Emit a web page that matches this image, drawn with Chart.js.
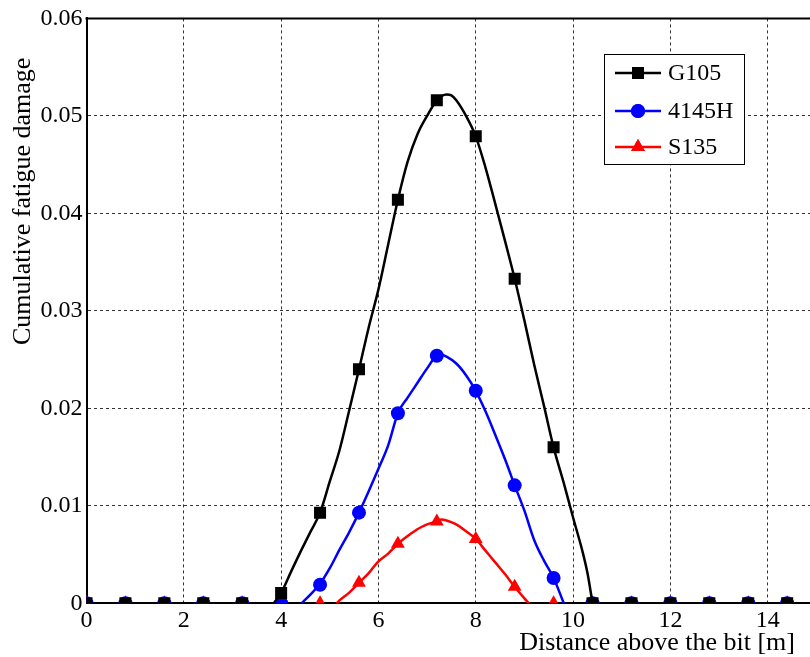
<!DOCTYPE html>
<html><head><meta charset="utf-8">
<script src="https://cdn.jsdelivr.net/npm/chart.js@4.4.0/dist/chart.umd.min.js"></script>
<style>html,body{margin:0;padding:0;background:#fff;overflow:hidden;width:810px;height:657px}
#wrap{position:relative;width:880px;height:657px}</style></head>
<body><div id="wrap"><canvas id="c" width="880" height="657"></canvas></div>
<script>
const seriesNames = ['G105', '4145H', 'S135'];
const seriesColors = ['#000000', '#0000ff', '#ff0000'];
const seriesMarkers = ['rect', 'circle', 'triangle'];
const markerX = [0, 0.8, 1.6, 2.4, 3.2, 4.0, 4.8, 5.6, 6.4, 7.2, 8.0, 8.8, 9.6, 10.4, 11.2, 12.0, 12.8, 13.6, 14.4];
const g105Markers = [0, 0, 0, 0, 0, 0.00105, 0.0093, 0.0240, 0.0414, 0.0516, 0.0479, 0.0333, 0.0160, 0, 0, 0, 0, 0, 0];
const h4145Markers = [0, 0, 0, 0, 0, 0, 0.0019, 0.0093, 0.0195, 0.0254, 0.0218, 0.0121, 0.0026, 0, 0, 0, 0, 0, 0];
const s135Markers = [0, 0, 0, 0, 0, 0, 0, 0.0021, 0.0061, 0.0084, 0.0066, 0.0017, 0, 0, 0, 0, 0, 0, 0];

const g105CurveX = [3.85, 4.0, 4.2, 4.4, 4.6, 4.8, 5.0, 5.2, 5.4, 5.6, 5.8, 6.0, 6.2, 6.4, 6.6, 6.8, 7.0, 7.2, 7.4, 7.5, 7.6, 7.8, 8.0, 8.2, 8.4, 8.6, 8.8, 9.0, 9.2, 9.4, 9.6, 9.8, 10.0, 10.2, 10.3, 10.4];
const g105CurveY = [0, 0.00105, 0.0032, 0.0053, 0.0073, 0.0093, 0.0125, 0.0157, 0.0198, 0.0240, 0.0283, 0.0322, 0.0368, 0.0414, 0.0453, 0.0481, 0.0500, 0.0516, 0.0522, 0.0521, 0.0516, 0.0500, 0.0479, 0.0447, 0.0410, 0.0372, 0.0333, 0.0290, 0.0245, 0.0203, 0.0160, 0.0125, 0.0088, 0.0052, 0.0030, 0];
const h4145CurveX = [4.42, 4.6, 4.8, 5.0, 5.2, 5.4, 5.6, 5.8, 6.0, 6.2, 6.4, 6.6, 6.8, 7.0, 7.2, 7.3, 7.4, 7.6, 7.8, 8.0, 8.2, 8.4, 8.6, 8.8, 9.0, 9.2, 9.4, 9.6, 9.81];
const h4145CurveY = [0, 0.0009, 0.0020, 0.0036, 0.0055, 0.0073, 0.0093, 0.0115, 0.0138, 0.0162, 0.0195, 0.0211, 0.0226, 0.0241, 0.0254, 0.0255, 0.0253, 0.0246, 0.0234, 0.0218, 0.0197, 0.0173, 0.0148, 0.0121, 0.0095, 0.0065, 0.0044, 0.0026, 0];
const s135CurveX = [5.14, 5.2, 5.4, 5.6, 5.8, 6.0, 6.2, 6.4, 6.6, 6.8, 7.0, 7.2, 7.3, 7.4, 7.6, 7.8, 8.0, 8.2, 8.4, 8.6, 8.8, 9.0, 9.09];
const s135CurveY = [0, 0.0003, 0.0011, 0.0021, 0.0031, 0.0043, 0.0051, 0.0061, 0.0069, 0.0076, 0.0081, 0.0084, 0.0086, 0.0085, 0.0081, 0.0074, 0.0066, 0.0054, 0.0042, 0.0030, 0.0017, 0.0005, 0];

const xTickValues = [0, 2, 4, 6, 8, 10, 12, 14, 16];
const yTickValues = [0, 0.01, 0.02, 0.03, 0.04, 0.05, 0.06];
const xTitle = 'Distance above the bit [m]';
const yTitle = 'Cumulative fatigue damage';

const markerSets = [g105Markers, h4145Markers, s135Markers];
const curveSets = [[g105CurveX, g105CurveY], [h4145CurveX, h4145CurveY], [s135CurveX, s135CurveY]];
const markerRadius = [8.5, 7, 8];

const datasets = [];
for (let i = 0; i < 3; i++) {
  datasets.push({
    label: seriesNames[i],
    data: markerX.map((x, k) => ({x, y: markerSets[i][k]})),
    showLine: false,
    pointStyle: seriesMarkers[i],
    pointRadius: markerRadius[i],
    pointHoverRadius: markerRadius[i],
    pointBackgroundColor: seriesColors[i],
    pointBorderColor: seriesColors[i],
    pointBorderWidth: 0,
    borderColor: seriesColors[i],
    backgroundColor: seriesColors[i],
    borderWidth: 2.5
  });
  datasets.push({
    label: seriesNames[i] + ' curve',
    data: curveSets[i][0].map((x, k) => ({x, y: curveSets[i][1][k]})),
    showLine: true,
    pointRadius: 0,
    borderColor: seriesColors[i],
    borderWidth: 2.5,
    cubicInterpolationMode: 'monotone',
    fill: false
  });
}

const FONT = '"Liberation Serif", "DejaVu Serif", serif';

const decor = {
  id: 'decor',
  afterDatasetsDraw(chart) {
    const {ctx, chartArea: a} = chart;
    ctx.save();
    // top border
    ctx.strokeStyle = '#000'; ctx.lineWidth = 2;
    ctx.beginPath(); ctx.moveTo(a.left - 1, a.top); ctx.lineTo(a.right, a.top); ctx.stroke();
    // legend
    const bx = 604, by = 54, bw = 140, bh = 110;
    ctx.fillStyle = '#fff'; ctx.fillRect(bx, by, bw, bh);
    ctx.strokeStyle = '#000'; ctx.lineWidth = 1;
    ctx.strokeRect(bx + 0.5, by + 0.5, bw, bh);
    const rows = [73, 111, 147];
    for (let i = 0; i < 3; i++) {
      const y = rows[i];
      ctx.strokeStyle = seriesColors[i]; ctx.lineWidth = 2.5;
      ctx.beginPath(); ctx.moveTo(615, y); ctx.lineTo(661, y); ctx.stroke();
      ctx.fillStyle = seriesColors[i];
      Chart.helpers.drawPoint(ctx, {pointStyle: seriesMarkers[i], radius: markerRadius[i], borderWidth: 0}, 638, y);
      ctx.fill();
      ctx.fillStyle = '#000';
      ctx.font = '24px ' + FONT;
      ctx.textBaseline = 'middle'; ctx.textAlign = 'left';
      ctx.fillText(seriesNames[i], 668, y + 1);
    }
    // axis titles
    ctx.fillStyle = '#000';
    ctx.font = '26px ' + FONT;
    ctx.textAlign = 'right'; ctx.textBaseline = 'alphabetic';
    ctx.fillText(xTitle, 795, 650);
    ctx.save();
    ctx.translate(30, 345); ctx.rotate(-Math.PI / 2);
    ctx.textAlign = 'left';
    ctx.fillText(yTitle, 0, 0);
    ctx.restore();
    ctx.restore();
  }
};

new Chart(document.getElementById('c'), {
  type: 'scatter',
  data: {datasets},
  options: {
    responsive: false,
    animation: false,
    devicePixelRatio: 1,
    layout: {padding: {top: 18.3, right: 14.5, left: 0, bottom: 0}},
    plugins: {legend: {display: false}, tooltip: {enabled: false}},
    scales: {
      x: {
        type: 'linear', min: 0, max: 16,
        afterBuildTicks(s) { s.ticks = xTickValues.map(v => ({value: v})); },
        afterFit(s) { s.height = 53.7; },
        ticks: {color: '#000', font: {family: FONT, size: 24}, padding: 3, maxRotation: 0,
          callback: v => String(v)},
        grid: {color: '#333', lineWidth: 1, drawTicks: false},
        border: {display: true, color: '#000', width: 2, dash: [3, 3]}
      },
      y: {
        type: 'linear', min: 0, max: 0.06,
        afterBuildTicks(s) { s.ticks = yTickValues.map(v => ({value: v})); },
        afterFit(s) { s.width = 86.5; },
        ticks: {color: '#000', font: {family: FONT, size: 24}, padding: 4,
          callback: v => String(+v.toFixed(2))},
        grid: {color: '#333', lineWidth: 1, drawTicks: false},
        border: {display: true, color: '#000', width: 2, dash: [3, 3]}
      }
    }
  },
  plugins: [decor]
});
</script>
</body></html>
